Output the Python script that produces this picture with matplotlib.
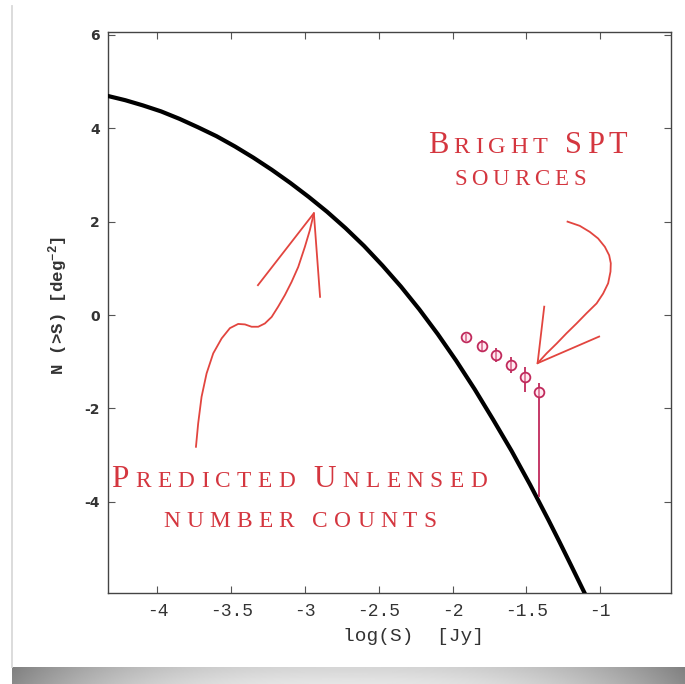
import matplotlib
matplotlib.use('Agg')
import matplotlib.pyplot as plt
import numpy as np
from matplotlib.offsetbox import TextArea, HPacker, AnnotationBbox

# predicted unlensed counts (black model curve)
curve_logs = [-4.335, -4.218, -4.1, -3.975, -3.85, -3.725, -3.6, -3.475, -3.35,
              -3.225, -3.1, -2.975, -2.85, -2.725, -2.6, -2.475, -2.35, -2.225,
              -2.1, -1.975, -1.85, -1.725, -1.6, -1.475, -1.35, -1.275, -1.2,
              -1.152, -1.104]
curve_n = [4.69, 4.60, 4.49, 4.36, 4.20, 4.02, 3.83, 3.61, 3.37,
           3.11, 2.83, 2.53, 2.21, 1.86, 1.48, 1.06, 0.61, 0.12,
           -0.41, -0.98, -1.59, -2.24, -2.91, -3.63, -4.39, -4.86, -5.34,
           -5.65, -5.96]

# bright SPT sources
spt_logs = [-1.906, -1.804, -1.709, -1.605, -1.51, -1.415]
spt_n = [-0.48, -0.66, -0.86, -1.07, -1.32, -1.64]
spt_err_lo = [0.08, 0.12, 0.15, 0.17, 0.32, 2.25]
spt_err_hi = [0.08, 0.12, 0.15, 0.17, 0.21, 0.18]

x_ticks = [-4, -3.5, -3, -2.5, -2, -1.5, -1]
y_ticks = [-4, -2, 0, 2, 4, 6]

# hand drawn arrows
arrow1_x = [-3.739, -3.724, -3.701, -3.667, -3.622, -3.565, -3.509, -3.453,
            -3.407, -3.362, -3.317, -3.272, -3.226, -3.182, -3.136, -3.091,
            -3.046, -3.001, -2.967, -2.940]
arrow1_y = [-2.82, -2.32, -1.75, -1.25, -0.82, -0.50, -0.28, -0.19,
            -0.20, -0.25, -0.25, -0.18, -0.04, 0.18, 0.43, 0.71,
            1.03, 1.46, 1.82, 2.18]
head1_x = [-3.319, -2.940, -2.898]
head1_y = [0.64, 2.18, 0.39]

arrow2_x = [-1.221, -1.138, -1.070, -1.014, -0.968, -0.939, -0.928, -0.930,
            -0.946, -0.980, -1.024, -1.092, -1.160, -1.228, -1.295, -1.363, -1.424]
arrow2_y = [2.00, 1.91, 1.78, 1.64, 1.46, 1.28, 1.11, 0.93,
            0.68, 0.46, 0.25, 0.04, -0.18, -0.39, -0.61, -0.82, -1.03]
head2_x = [-1.379, -1.424, -1.007]
head2_y = [0.18, -1.03, -0.46]

plt.rcParams['axes.unicode_minus'] = False
plt.rcParams['mathtext.default'] = 'regular'

label_red = '#d4363f'
arrow_red = '#e2453f'
point_col = '#c02a5c'
W, H = 685, 684


def caps_box(line, big, small, track, gap):
    # fake small caps: upper case letters big, lower case letters small
    words = []
    for word in line.split():
        letters = [TextArea(ch.upper(), textprops=dict(
            fontfamily='Liberation Serif', color=label_red,
            fontsize=big if ch.isupper() else small)) for ch in word]
        words.append(HPacker(children=letters, align='baseline', pad=0, sep=track))
    return HPacker(children=words, align='baseline', pad=0, sep=gap)


def put_caps(ax, line, cx, baseline, big, small, track=3.5, gap=13):
    box = caps_box(line, big, small, track, gap)
    desc = 0.216 * (big if any(c.isupper() for c in line) else small) * 100 / 72
    ab = AnnotationBbox(box, (cx, H - baseline - desc), xycoords='figure pixels',
                        frameon=False, box_alignment=(0.5, 0.0), pad=0)
    ax.add_artist(ab)


fig = plt.figure(figsize=(6.85, 6.84), dpi=100)

# slide card: left border and curled shadow at the bottom
bg = fig.add_axes([0, 0, 1, 1], zorder=-1)
cols = np.abs(np.linspace(-1, 1, 500))
rows = np.linspace(0, 1, 20)[:, None]
shade = (0.9 - 0.36 * cols[None, :] ** 2.5) * (0.93 + 0.07 * rows)
bg.imshow(shade, extent=(12, W, H, 667), cmap='gray', vmin=0, vmax=1,
          aspect='auto', interpolation='bilinear')
bg.plot([12, 12], [6, 667], color='#d9d9d9', lw=1.3)
bg.set_xlim(0, W)
bg.set_ylim(H, 0)
bg.axis('off')

ax = fig.add_axes([108 / W, 91 / H, 563 / W, 561 / H])
ax.plot(curve_logs, curve_n, color='black', lw=3, zorder=3,
        solid_joinstyle='round')
ax.errorbar(spt_logs, spt_n, yerr=[spt_err_lo, spt_err_hi], fmt='o', ms=7,
            mfc=(1.0, 0.82, 0.88, 0.45), mec=point_col, mew=1.3, ecolor=point_col,
            elinewidth=1.3, capsize=0, zorder=4)

for px, py in [(arrow1_x, arrow1_y), (head1_x, head1_y),
               (arrow2_x, arrow2_y), (head2_x, head2_y)]:
    ax.plot(px, py, color=arrow_red, lw=1.3, zorder=5, solid_joinstyle='round')

ax.set_xlim(-4.335, -0.52)
ax.set_ylim(-5.95, 6.06)
ax.set_xticks(x_ticks)
ax.set_yticks(y_ticks)
ax.set_xticklabels([str(v) for v in x_ticks], fontfamily='Liberation Mono',
                   fontsize=13, color='#333333')
ax.set_yticklabels([str(v) for v in y_ticks], fontfamily='DejaVu Sans',
                   fontweight='bold', fontsize=10, color='#333333')
ax.tick_params(direction='in', top=True, right=True, length=5, width=0.8,
               color='#555555')
ax.tick_params(axis='x', pad=7)
ax.tick_params(axis='y', pad=6)
for sp in ax.spines.values():
    sp.set_color('#444444')
    sp.set_linewidth(1.0)

ax.set_xlabel('log(S)  [Jy]', fontfamily='Liberation Mono', fontsize=14,
              color='#333333')
ax.xaxis.set_label_coords((413 - 108) / 563, -0.062)
ax.set_ylabel('N (>S) [deg$^{-2}$]', fontfamily='Liberation Mono',
              fontweight='bold', fontsize=12.5, color='#333333')
ax.yaxis.set_label_coords(-0.068, 0.513)

put_caps(ax, 'Bright SPT', 528, 153, 22, 17.5)
put_caps(ax, 'sources', 520, 185, 22, 16.5)
put_caps(ax, 'Predicted Unlensed', 299, 487, 22.5, 16.8, track=4.6)
put_caps(ax, 'number counts', 300, 527, 22, 16.8, track=4.4)

fig.savefig('out.png', dpi=100)
